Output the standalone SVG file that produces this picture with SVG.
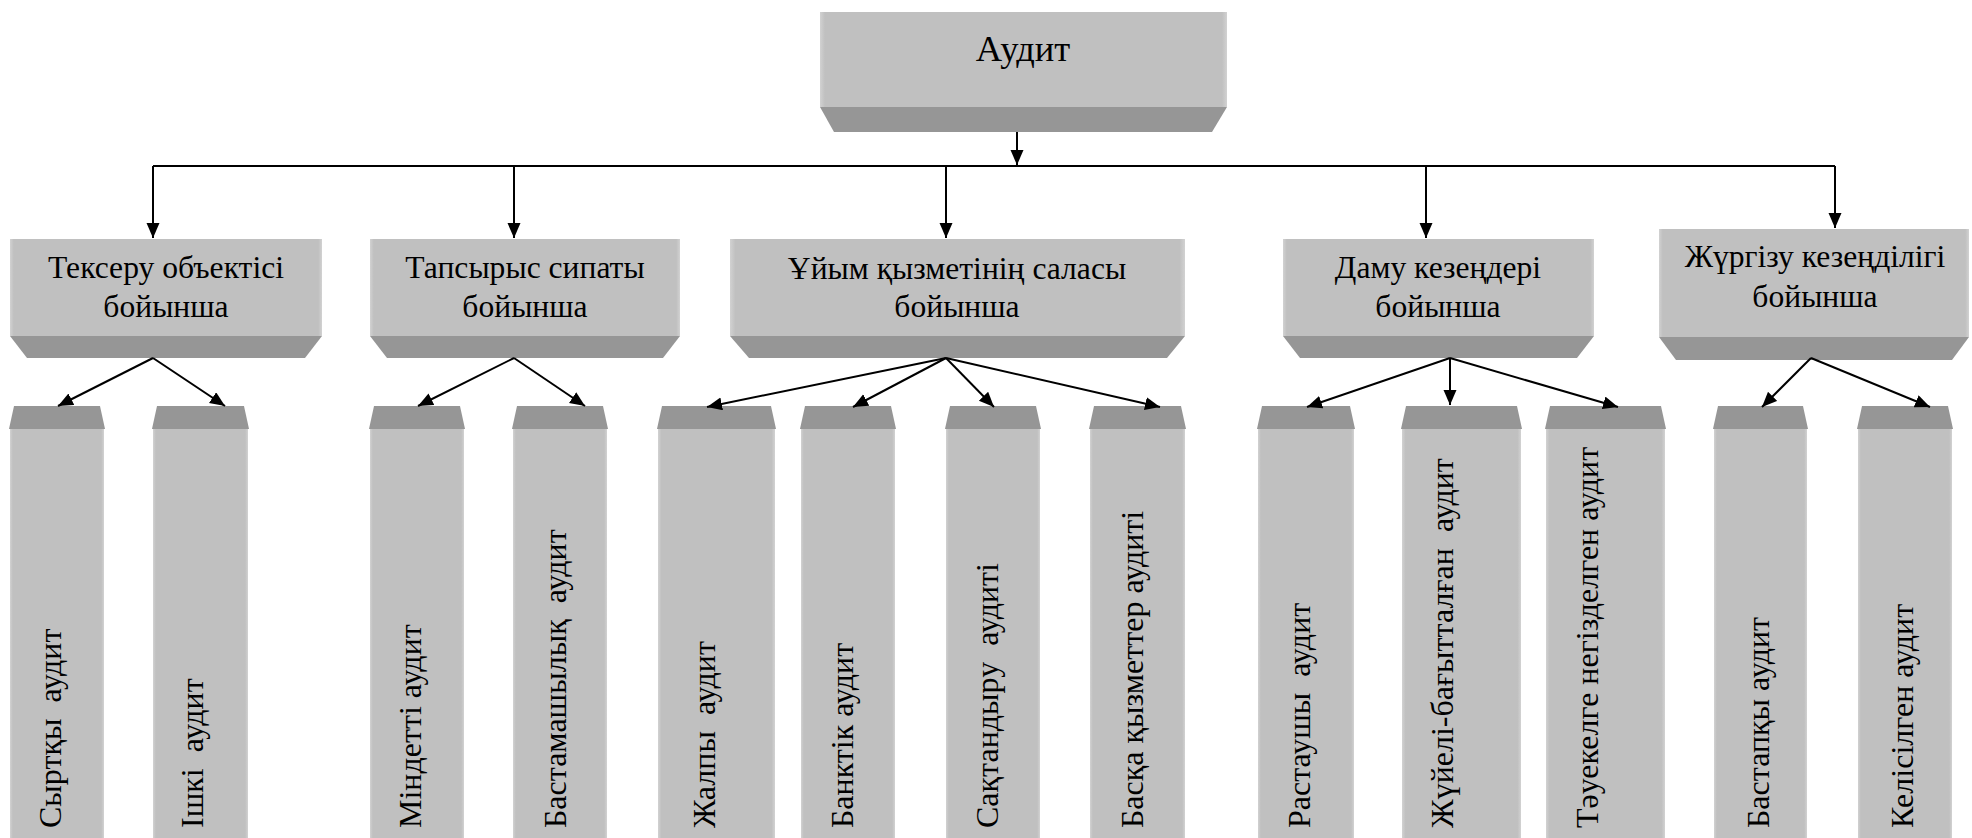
<svg xmlns="http://www.w3.org/2000/svg" width="1972" height="838" viewBox="0 0 1972 838">
<defs>
<linearGradient id="gL" x1="0" y1="0" x2="1" y2="0">
<stop offset="0" stop-color="#d2d2d2"/><stop offset="0.012" stop-color="#c0c0c0"/><stop offset="0.988" stop-color="#c0c0c0"/><stop offset="1" stop-color="#d2d2d2"/>
</linearGradient>
<linearGradient id="gC" x1="0" y1="0" x2="1" y2="0">
<stop offset="0" stop-color="#d2d2d2"/><stop offset="0.03" stop-color="#c0c0c0"/><stop offset="0.97" stop-color="#c0c0c0"/><stop offset="1" stop-color="#d2d2d2"/>
</linearGradient>
<marker id="ah" markerUnits="userSpaceOnUse" markerWidth="16" markerHeight="14" refX="15" refY="6.5" orient="auto">
<path d="M0,0 L15,6.5 L0,13 z" fill="#000"/>
</marker>
</defs>
<style>
.lt{fill:url(#gL)}
.lc{fill:url(#gC)}
.dk{fill:#969696}
.t{font-family:"Liberation Serif","Times New Roman",serif;font-size:31.6px;fill:#000;text-anchor:middle}
.tt{font-family:"Liberation Serif","Times New Roman",serif;font-size:36.5px;fill:#000;text-anchor:middle}
.v{font-family:"Liberation Serif","Times New Roman",serif;font-size:32px;fill:#000;white-space:pre}
.c{stroke:#000;stroke-width:2;fill:none}
.a{stroke:#000;stroke-width:2;fill:none;marker-end:url(#ah)}
</style>

<g id="root">
<rect class="lt" x="820" y="12" width="407" height="95"/>
<polygon class="dk" points="820,107 1227,107 1212,132 834,132"/>
<text class="tt" x="1023" y="61">Аудит</text>
</g>

<g id="n1">
<rect class="lt" x="10" y="239" width="312" height="97"/>
<polygon class="dk" points="10,336 322,336 305,358 27,358"/>
<text class="t" x="166" y="278">Тексеру объектісі</text>
<text class="t" x="166" y="317">бойынша</text>
</g>
<g id="n2">
<rect class="lt" x="370" y="239" width="310" height="97"/>
<polygon class="dk" points="370,336 680,336 663,358 387,358"/>
<text class="t" x="525" y="278">Тапсырыс сипаты</text>
<text class="t" x="525" y="317">бойынша</text>
</g>
<g id="n3">
<rect class="lt" x="730" y="239" width="455" height="97"/>
<polygon class="dk" points="730,336 1185,336 1167,358 749,358"/>
<text class="t" x="957" y="279">Ұйым қызметінің саласы</text>
<text class="t" x="957" y="317">бойынша</text>
</g>
<g id="n4">
<rect class="lt" x="1283" y="239" width="311" height="97"/>
<polygon class="dk" points="1283,336 1594,336 1577,358 1300,358"/>
<text class="t" x="1438" y="278">Даму кезеңдері</text>
<text class="t" x="1438" y="317">бойынша</text>
</g>
<g id="n5">
<rect class="lt" x="1659" y="229" width="310" height="108"/>
<polygon class="dk" points="1659,337 1969,337 1952,360 1676,360"/>
<text class="t" x="1815" y="267">Жүргізу кезеңділігі</text>
<text class="t" x="1815" y="307">бойынша</text>
</g>

<g id="c1">
<rect class="lc" x="10" y="429" width="94" height="409"/>
<polygon class="dk" points="14,406 100,406 105,429 9,429"/>
<text class="v" transform="translate(61,828) rotate(-90)">Сыртқы  аудит</text>
</g>
<g id="c2">
<rect class="lc" x="153" y="429" width="95" height="409"/>
<polygon class="dk" points="157,406 244,406 249,429 152,429"/>
<text class="v" transform="translate(203,828) rotate(-90)">Ішкі  аудит</text>
</g>
<g id="c3">
<rect class="lc" x="370" y="429" width="94" height="409"/>
<polygon class="dk" points="374,406 460,406 465,429 369,429"/>
<text class="v" transform="translate(421,828) rotate(-90)">Міндетті аудит</text>
</g>
<g id="c4">
<rect class="lc" x="513" y="429" width="94" height="409"/>
<polygon class="dk" points="517,406 603,406 608,429 512,429"/>
<text class="v" transform="translate(566,828) rotate(-90)">Бастамашылық  аудит</text>
</g>
<g id="c5">
<rect class="lc" x="658" y="429" width="117" height="409"/>
<polygon class="dk" points="662,406 771,406 776,429 657,429"/>
<text class="v" transform="translate(715,828) rotate(-90)">Жалпы  аудит</text>
</g>
<g id="c6">
<rect class="lc" x="801" y="429" width="94" height="409"/>
<polygon class="dk" points="805,406 891,406 896,429 800,429"/>
<text class="v" transform="translate(853,828) rotate(-90)">Банктік аудит</text>
</g>
<g id="c7">
<rect class="lc" x="946" y="429" width="94" height="409"/>
<polygon class="dk" points="950,406 1036,406 1041,429 945,429"/>
<text class="v" transform="translate(998,828) rotate(-90)">Сақтандыру  аудиті</text>
</g>
<g id="c8">
<rect class="lc" x="1090" y="429" width="95" height="409"/>
<polygon class="dk" points="1094,406 1181,406 1186,429 1089,429"/>
<text class="v" transform="translate(1143,828) rotate(-90)">Басқа қызметтер аудиті</text>
</g>
<g id="c9">
<rect class="lc" x="1258" y="429" width="96" height="409"/>
<polygon class="dk" points="1262,406 1350,406 1355,429 1257,429"/>
<text class="v" transform="translate(1310,828) rotate(-90)">Растаушы  аудит</text>
</g>
<g id="c10">
<rect class="lc" x="1402" y="429" width="119" height="409"/>
<polygon class="dk" points="1406,406 1517,406 1522,429 1401,429"/>
<text class="v" transform="translate(1453,828) rotate(-90)">Жүйелі-бағытталған  аудит</text>
</g>
<g id="c11">
<rect class="lc" x="1546" y="429" width="119" height="409"/>
<polygon class="dk" points="1550,406 1661,406 1666,429 1545,429"/>
<text class="v" transform="translate(1598,828) rotate(-90)">Тәуекелге негізделген аудит</text>
</g>
<g id="c12">
<rect class="lc" x="1714" y="429" width="93" height="409"/>
<polygon class="dk" points="1718,406 1803,406 1808,429 1713,429"/>
<text class="v" transform="translate(1769,828) rotate(-90)">Бастапқы аудит</text>
</g>
<g id="c13">
<rect class="lc" x="1858" y="429" width="94" height="409"/>
<polygon class="dk" points="1862,406 1948,406 1953,429 1857,429"/>
<text class="v" transform="translate(1913,828) rotate(-90)">Келісілген аудит</text>
</g>

<g id="connectors">
<line class="a" x1="1017" y1="132" x2="1017" y2="165"/>
<line class="c" x1="153" y1="166" x2="1835" y2="166"/>
<line class="a" x1="153" y1="166" x2="153" y2="238"/>
<line class="a" x1="514" y1="166" x2="514" y2="238"/>
<line class="a" x1="946" y1="166" x2="946" y2="238"/>
<line class="a" x1="1426" y1="166" x2="1426" y2="238"/>
<line class="a" x1="1835" y1="166" x2="1835" y2="228"/>
<line class="a" x1="153" y1="358" x2="58" y2="406"/>
<line class="a" x1="153" y1="358" x2="225" y2="406"/>
<line class="a" x1="514" y1="358" x2="418" y2="406"/>
<line class="a" x1="514" y1="358" x2="585" y2="406"/>
<line class="a" x1="946" y1="358" x2="707" y2="407"/>
<line class="a" x1="946" y1="358" x2="853" y2="407"/>
<line class="a" x1="946" y1="358" x2="994" y2="407"/>
<line class="a" x1="946" y1="358" x2="1160" y2="407"/>
<line class="a" x1="1450" y1="358" x2="1307" y2="407"/>
<line class="a" x1="1450" y1="358" x2="1450" y2="405"/>
<line class="a" x1="1450" y1="358" x2="1618" y2="407"/>
<line class="a" x1="1811" y1="358" x2="1762" y2="407"/>
<line class="a" x1="1811" y1="358" x2="1930" y2="407"/>
</g>
</svg>
